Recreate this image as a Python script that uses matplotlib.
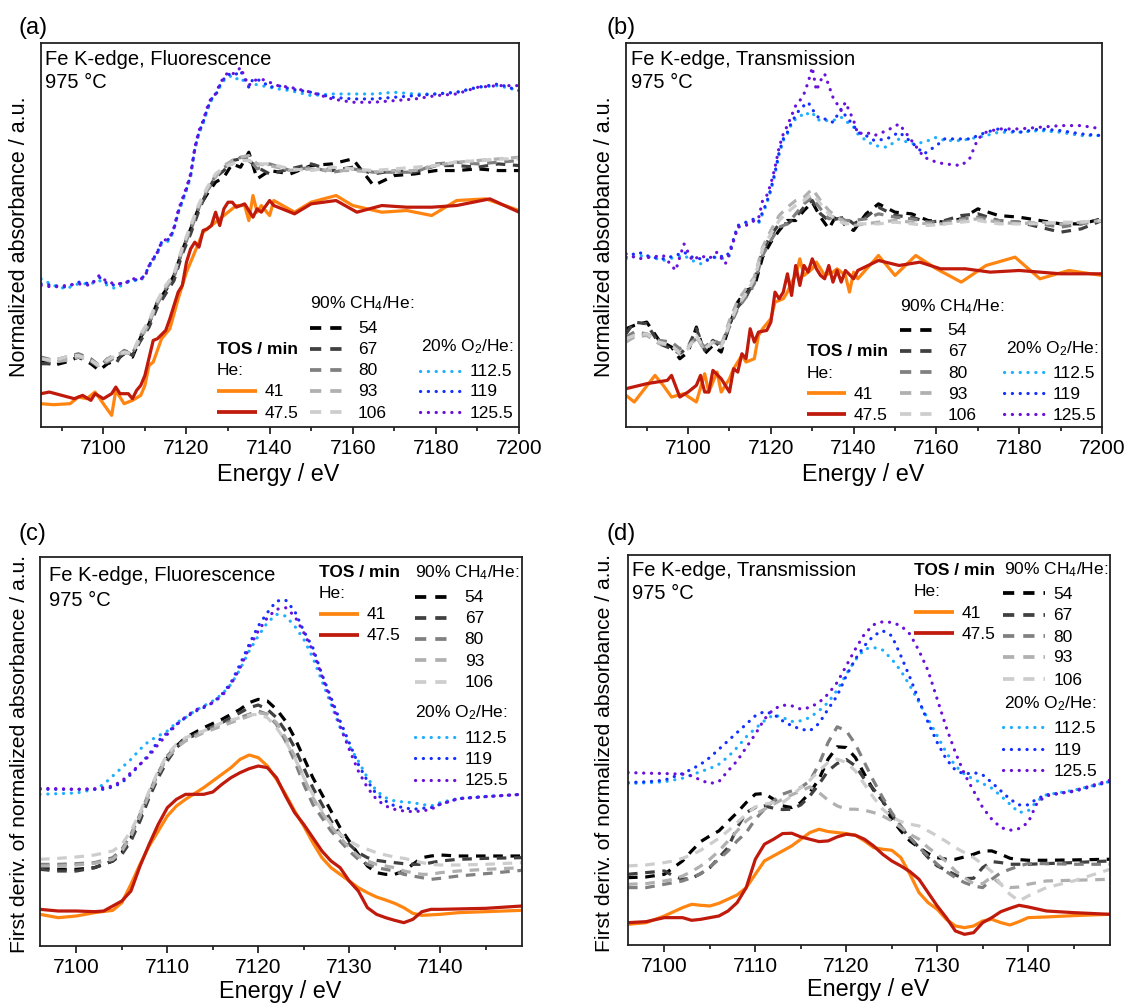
import matplotlib
matplotlib.use('Agg')
import matplotlib.pyplot as plt
from matplotlib.ticker import MultipleLocator

plt.rcParams['font.family'] = ['Liberation Sans', 'DejaVu Sans']
plt.rcParams['mathtext.fontset'] = 'custom'
plt.rcParams['mathtext.rm'] = 'Liberation Sans'
plt.rcParams['mathtext.it'] = 'Liberation Sans:italic'
plt.rcParams['mathtext.bf'] = 'Liberation Sans:bold'

# ---------------- labels ----------------
HE_LABELS = ['41', '47.5']
CH4_LABELS = ['54', '67', '80', '93', '106']
O2_LABELS = ['112.5', '119', '125.5']
HE_COLORS = ['#FF8510', '#BF1A0C']
CH4_COLORS = ['#000000', '#404040', '#808080', '#B0B0B0', '#CDCDCD']
O2_COLORS = ['#1EB0FF', '#1430FF', '#6A10D8']

# ---------------- panel (a): XANES, fluorescence ----------------
E_a_41 = [7085, 7088, 7092, 7094, 7096, 7098, 7100, 7102, 7103, 7105, 7107, 7109, 7110, 7111, 7112, 7114, 7116, 7118, 7120, 7122,
          7124, 7126, 7128, 7130, 7132, 7134, 7135, 7136, 7137, 7138, 7140, 7141, 7146, 7150, 7156, 7160, 7167, 7173, 7179, 7185, 7192, 7200]
Y_a_41 = [7.0, 6.7, 7.0, 9.0, 8.5, 10.5, 7.0, 3.5, 11.0, 7.0, 8.0, 9.5, 12.5, 18.5, 19.5, 26.5, 29.5, 38.5, 46.5, 52.5,
          58.5, 60.5, 62.5, 64.5, 66.5, 66.5, 62.0, 69.5, 64.5, 66.5, 63.5, 68.0, 64.5, 67.5, 69.5, 66.5, 64.5, 65.0, 63.5, 68.0, 68.5, 65.0]
E_a_47 = [7085, 7087, 7090, 7093, 7095, 7097, 7098, 7100, 7102, 7103, 7104, 7106, 7107, 7108, 7109, 7110, 7112, 7113, 7115, 7116,
          7118, 7119, 7120, 7121, 7122, 7123, 7124, 7125, 7126, 7127, 7128, 7129, 7130, 7131, 7132, 7134, 7136, 7137, 7138, 7140,
          7141, 7146, 7150, 7156, 7161, 7167, 7173, 7179, 7185, 7193, 7200]
Y_a_47 = [10.0, 10.5, 9.5, 8.5, 9.5, 8.0, 10.0, 8.5, 10.0, 12.0, 10.0, 10.0, 8.5, 11.0, 12.5, 15.5, 26.0, 26.5, 29.0, 32.5,
          40.5, 42.5, 49.5, 53.5, 55.5, 54.0, 59.0, 59.5, 60.5, 64.5, 60.5, 65.5, 67.5, 67.5, 66.0, 67.0, 63.0, 65.5, 64.5, 68.0,
          66.5, 64.0, 67.0, 68.0, 64.5, 66.5, 66.0, 66.0, 66.5, 68.5, 64.5]
E_a_gray = [7085, 7088, 7091, 7094, 7097, 7099, 7101, 7103, 7105, 7107, 7109, 7111, 7113, 7115, 7117, 7119, 7121, 7123, 7125, 7127,
            7129, 7131, 7133, 7135, 7137, 7140, 7145, 7150, 7155, 7160, 7165, 7170, 7175, 7180, 7185, 7190, 7195, 7200]
Y_a_54 = [20.0, 18.5, 19.5, 21.0, 19.0, 17.0, 19.0, 20.0, 22.0, 21.0, 27.0, 31.0, 37.5, 41.0, 45.5, 53.0, 59.5, 66.0, 70.0, 73.5,
          75.0, 79.0, 78.0, 82.5, 74.5, 77.0, 76.0, 78.5, 79.0, 80.5, 72.5, 75.5, 76.0, 77.0, 77.0, 77.5, 77.0, 77.0]
Y_a_67 = [19.0, 19.0, 20.5, 21.5, 19.5, 18.0, 20.5, 19.0, 23.0, 21.5, 26.0, 30.0, 36.0, 40.0, 44.0, 52.0, 58.0, 65.0, 71.0, 75.0,
          77.0, 80.0, 80.5, 80.0, 78.0, 76.0, 77.5, 79.0, 77.0, 78.0, 76.0, 77.0, 76.5, 78.5, 78.5, 78.0, 79.0, 78.5]
Y_a_80 = [21.0, 20.0, 21.0, 22.0, 20.5, 18.5, 19.5, 21.0, 23.0, 22.0, 27.5, 31.5, 37.0, 41.5, 45.0, 53.0, 59.0, 66.0, 71.0, 75.5,
          78.0, 79.0, 81.0, 80.5, 77.5, 79.0, 77.0, 78.0, 76.5, 77.5, 76.5, 76.5, 76.5, 79.0, 79.5, 79.0, 79.5, 80.0]
Y_a_93 = [20.5, 19.5, 20.0, 21.0, 20.0, 18.0, 20.5, 22.0, 22.0, 22.5, 26.5, 31.0, 37.5, 42.0, 46.0, 53.5, 60.0, 66.5, 71.5, 75.0,
          78.5, 80.0, 81.0, 81.5, 79.0, 78.5, 77.0, 77.5, 77.0, 77.0, 76.5, 77.0, 77.0, 78.5, 79.5, 80.0, 80.5, 81.0]
Y_a_106 = [20.5, 20.0, 21.0, 21.5, 20.0, 18.5, 20.0, 21.5, 22.5, 22.0, 28.0, 32.0, 38.0, 42.5, 46.0, 54.0, 60.5, 67.0, 72.0, 76.0,
           78.0, 79.0, 80.0, 80.0, 79.0, 79.0, 77.5, 77.0, 78.0, 77.5, 77.0, 77.5, 78.0, 78.5, 79.5, 80.0, 80.5, 80.5]
E_a_ox = [7085, 7088, 7091, 7094, 7097, 7099, 7101, 7103, 7105, 7107, 7109, 7110, 7111, 7113, 7114, 7116, 7117, 7118, 7120, 7121,
          7122, 7123, 7124, 7125, 7126, 7127, 7128, 7129, 7130, 7131, 7132, 7133, 7134, 7135, 7136, 7138, 7140, 7142, 7145, 7150,
          7155, 7160, 7165, 7170, 7175, 7180, 7185, 7190, 7195, 7200]
Y_a_112 = [44.5, 42.5, 41.5, 43.0, 43.0, 44.0, 42.5, 41.5, 43.0, 44.0, 44.0, 45.5, 48.0, 52.0, 55.0, 56.0, 59.5, 64.0, 71.0, 75.0,
           83.0, 88.0, 91.0, 95.0, 98.0, 100.0, 102.0, 104.0, 105.0, 105.5, 104.5, 105.0, 103.5, 102.5, 103.0, 102.5, 102.0, 101.5, 101.0, 99.5,
           100.0, 100.0, 100.0, 100.5, 100.0, 100.0, 100.5, 102.0, 102.5, 101.0]
Y_a_119 = [43.0, 42.5, 42.0, 43.5, 43.0, 45.0, 43.0, 42.5, 43.5, 44.0, 44.5, 45.5, 48.5, 52.5, 55.5, 56.5, 59.5, 64.5, 71.5, 75.5,
           83.5, 88.5, 91.5, 95.5, 98.5, 99.5, 102.5, 104.5, 106.0, 105.5, 106.0, 107.0, 104.5, 102.0, 104.5, 104.0, 102.0, 102.5, 101.5, 100.5,
           99.0, 98.5, 98.5, 99.0, 99.5, 100.0, 100.5, 102.0, 103.0, 101.0]
Y_a_125 = [42.5, 42.0, 42.5, 43.0, 42.5, 45.5, 43.5, 43.0, 43.0, 44.5, 44.5, 45.0, 48.5, 52.5, 55.5, 57.0, 60.0, 65.0, 72.0, 76.0,
           84.0, 89.0, 92.0, 96.0, 99.0, 100.0, 103.0, 105.0, 106.5, 106.0, 106.5, 108.0, 105.0, 102.5, 104.0, 104.5, 103.5, 102.5, 102.0, 100.5,
           98.5, 97.5, 97.5, 98.0, 98.5, 99.5, 100.0, 102.0, 102.5, 102.5]

# ---------------- panel (b): XANES, transmission ----------------
E_b_41 = [7085, 7087, 7092, 7094, 7096, 7099, 7102, 7104, 7105, 7107, 7108, 7110, 7111, 7113, 7114, 7116, 7117, 7118, 7120, 7121,
          7123, 7124, 7125, 7126, 7127, 7128, 7130, 7131, 7133, 7135, 7136, 7138, 7139, 7140, 7141, 7146, 7150, 7155, 7160, 7166,
          7172, 7179, 7185, 7192, 7200]
Y_b_41 = [9.5, 7.5, 15.5, 12.5, 9.0, 10.0, 7.5, 16.0, 10.5, 16.5, 10.5, 14.5, 17.5, 21.5, 19.5, 20.5, 27.5, 29.5, 32.5, 37.5,
          38.5, 40.5, 43.5, 45.5, 50.5, 45.5, 47.5, 49.5, 45.5, 46.5, 47.5, 45.5, 40.5, 46.5, 44.5, 51.5, 45.5, 51.5, 47.5, 43.5,
          48.5, 51.0, 44.5, 47.0, 45.5]
E_b_47 = [7085, 7090, 7095, 7096, 7098, 7100, 7102, 7103, 7104, 7105, 7106, 7108, 7110, 7111, 7112, 7113, 7114, 7115, 7116, 7117,
          7119, 7120, 7121, 7122, 7123, 7124, 7125, 7126, 7127, 7128, 7129, 7130, 7131, 7132, 7133, 7134, 7135, 7136, 7137, 7138,
          7140, 7141, 7146, 7151, 7156, 7161, 7167, 7173, 7180, 7190, 7200]
Y_b_47 = [11.5, 13.0, 14.0, 15.5, 9.0, 10.5, 12.5, 15.5, 10.5, 10.5, 17.0, 14.5, 10.5, 17.5, 16.5, 22.0, 20.5, 29.5, 25.5, 28.5,
          29.0, 31.5, 40.5, 38.5, 40.5, 46.0, 39.5, 48.5, 42.5, 48.5, 46.5, 50.5, 47.5, 45.5, 44.5, 48.5, 43.5, 47.0, 43.5, 47.0,
          44.5, 47.0, 50.0, 48.5, 49.5, 47.5, 47.5, 46.5, 47.0, 46.0, 46.0]
E_b_gray = [7085, 7087, 7090, 7093, 7096, 7098, 7100, 7102, 7104, 7106, 7108, 7110, 7112, 7114, 7116, 7118, 7120, 7122, 7124, 7126,
            7128, 7130, 7132, 7134, 7136, 7138, 7140, 7143, 7146, 7150, 7154, 7158, 7162, 7166, 7170, 7175, 7180, 7185, 7190, 7195, 7200]
Y_b_54 = [29.5, 30.5, 31.5, 26.0, 24.0, 20.5, 22.5, 30.0, 22.0, 24.5, 22.5, 30.5, 37.5, 41.0, 42.0, 51.0, 55.5, 59.0, 62.0, 62.0,
          65.0, 67.5, 63.0, 59.5, 64.0, 60.5, 59.0, 64.0, 67.0, 64.5, 64.0, 62.0, 61.5, 62.5, 65.5, 63.5, 63.0, 62.0, 61.0, 61.0, 62.5]
Y_b_67 = [28.0, 31.5, 31.0, 25.0, 23.5, 22.0, 24.0, 29.5, 23.0, 26.0, 24.0, 31.0, 36.0, 39.0, 44.0, 53.0, 57.5, 61.0, 61.0, 63.0,
          66.0, 68.0, 64.0, 62.0, 62.5, 63.0, 61.0, 63.0, 66.0, 63.5, 63.0, 61.5, 62.0, 63.5, 64.0, 62.0, 61.5, 60.0, 58.5, 59.5, 62.0]
Y_b_80 = [27.0, 28.5, 28.0, 26.0, 25.5, 23.5, 24.5, 26.5, 24.0, 26.0, 25.0, 30.0, 35.5, 39.0, 43.0, 51.5, 56.0, 60.0, 61.0, 64.0,
          67.0, 69.0, 65.5, 62.5, 63.5, 62.0, 62.0, 62.5, 64.0, 63.0, 62.5, 61.5, 61.5, 62.5, 63.0, 62.0, 61.5, 61.0, 60.0, 61.0, 62.0]
Y_b_93 = [25.5, 27.0, 27.5, 25.0, 24.5, 22.5, 24.0, 27.0, 23.0, 25.5, 24.5, 32.0, 38.0, 41.5, 45.0, 54.0, 59.0, 63.5, 66.0, 68.0,
          69.0, 71.5, 68.0, 65.0, 63.0, 61.5, 60.5, 61.0, 61.5, 62.0, 61.5, 61.0, 61.0, 62.0, 62.5, 61.5, 61.0, 61.5, 61.0, 61.5, 62.0]
Y_b_106 = [26.5, 27.5, 28.0, 25.5, 24.5, 22.0, 23.5, 27.5, 23.5, 25.5, 24.0, 31.0, 36.5, 40.0, 44.5, 53.5, 58.0, 62.0, 64.5, 66.5,
           68.0, 70.0, 67.0, 64.0, 62.0, 61.0, 61.0, 61.0, 61.0, 61.5, 61.0, 60.5, 61.0, 61.5, 62.0, 61.0, 61.0, 61.0, 61.5, 61.5, 62.0]
E_b_ox = [7085, 7088, 7091, 7094, 7097, 7099, 7101, 7103, 7105, 7107, 7109, 7110, 7112, 7114, 7116, 7117, 7118, 7119, 7120, 7121,
          7122, 7123, 7124, 7125, 7126, 7127, 7128, 7129, 7130, 7131, 7132, 7133, 7135, 7137, 7138, 7140, 7141, 7143, 7145, 7148,
          7151, 7154, 7157, 7160, 7162, 7166, 7168, 7170, 7172, 7175, 7180, 7185, 7190, 7195, 7200]
Y_b_112 = [50.5, 51.5, 51.0, 50.0, 51.0, 51.5, 50.0, 49.0, 50.5, 51.0, 50.5, 51.5, 60.0, 61.0, 62.0, 61.0, 64.0, 67.0, 71.0, 76.0,
           82.0, 86.0, 88.0, 91.0, 92.5, 93.0, 94.5, 94.0, 94.5, 92.5, 92.0, 92.0, 92.0, 93.0, 92.0, 90.0, 88.0, 86.0, 84.5, 84.0,
           86.5, 85.0, 85.5, 87.0, 86.0, 86.0, 86.5, 87.0, 87.5, 88.5, 88.5, 89.0, 88.5, 87.5, 87.5]
Y_b_119 = [51.0, 52.5, 51.0, 50.5, 51.5, 52.5, 51.0, 50.5, 50.0, 51.5, 51.0, 52.5, 60.5, 61.5, 62.5, 61.5, 64.5, 67.5, 71.5, 76.5,
           82.5, 86.5, 88.5, 91.5, 93.5, 95.5, 96.5, 97.5, 95.5, 93.5, 92.5, 92.5, 91.5, 95.5, 93.5, 90.5, 88.5, 87.5, 86.0, 86.5,
           88.5, 85.5, 82.0, 84.5, 86.5, 86.5, 86.5, 87.5, 88.5, 89.5, 88.5, 89.5, 89.0, 88.0, 87.5]
Y_b_125 = [52.0, 50.5, 51.0, 51.5, 47.0, 55.0, 50.0, 51.5, 50.5, 52.5, 49.0, 52.0, 60.0, 60.5, 62.0, 62.5, 68.0, 69.5, 73.0, 78.0,
           84.0, 88.0, 90.5, 93.5, 96.5, 98.0, 100.0, 103.5, 108.0, 101.0, 104.0, 106.0, 99.0, 95.0, 97.5, 92.0, 88.0, 88.5, 87.5, 89.0,
           91.0, 86.0, 81.0, 79.5, 79.0, 78.5, 80.5, 86.5, 88.5, 89.5, 89.5, 90.0, 90.5, 90.5, 89.5]

# ---------------- panel (c): first derivative, fluorescence ----------------
E_c_41 = [7096, 7098, 7100, 7102, 7104, 7105, 7106, 7107, 7108, 7109, 7110, 7111, 7112, 7114, 7116, 7117, 7118, 7119, 7120, 7121,
          7122, 7123, 7124, 7125, 7126, 7127, 7128, 7129, 7130, 7131, 7132, 7133, 7134, 7135, 7136, 7137, 7138, 7140, 7142, 7145, 7149]
Y_c_41 = [9.5, 8.5, 9.0, 10.0, 10.7, 13.0, 18.5, 24.5, 30.0, 34.5, 39.0, 42.0, 44.0, 47.5, 51.5, 53.5, 56.0, 57.3, 56.5, 54.0,
          50.0, 45.5, 40.5, 36.0, 31.0, 26.5, 23.5, 21.5, 19.5, 17.5, 16.0, 14.7, 13.8, 12.8, 11.5, 9.8, 9.2, 9.5, 10.0, 10.3, 10.7]
E_c_47 = [7096, 7098, 7100, 7102, 7103, 7104, 7105, 7106, 7107, 7108, 7109, 7110, 7111, 7112, 7113, 7114, 7115, 7116, 7117, 7118,
          7119, 7120, 7121, 7122, 7123, 7124, 7125, 7126, 7127, 7128, 7129, 7130, 7131, 7132, 7133, 7134, 7135, 7136, 7137, 7138,
          7139, 7140, 7145, 7149]
Y_c_47 = [11.0, 10.5, 10.5, 10.3, 10.5, 12.0, 13.5, 16.5, 24.0, 30.5, 36.5, 41.5, 44.0, 45.5, 45.5, 45.5, 46.2, 48.5, 50.5, 52.0,
          53.2, 54.0, 53.5, 50.5, 45.0, 40.0, 36.5, 32.5, 28.5, 25.5, 23.5, 19.5, 16.5, 11.5, 9.5, 8.5, 7.7, 7.0, 8.0, 10.3,
          11.0, 11.0, 11.3, 12.0]
E_c_gray = [7096, 7098, 7100, 7102, 7104, 7105, 7106, 7107, 7108, 7109, 7110, 7111, 7112, 7114, 7116, 7118, 7119, 7120, 7121, 7122,
            7123, 7124, 7125, 7126, 7127, 7128, 7129, 7130, 7131, 7132, 7133, 7134, 7135, 7136, 7137, 7138, 7139, 7140, 7142, 7145, 7149]
Y_c_54 = [23.5, 23.0, 23.0, 23.5, 25.5, 28.0, 32.5, 38.5, 45.5, 51.5, 56.5, 60.0, 62.5, 65.5, 68.0, 71.0, 73.0, 74.0, 73.5, 71.0,
          67.5, 62.5, 56.5, 50.5, 45.5, 40.5, 35.5, 31.5, 27.5, 24.0, 22.0, 21.5, 21.5, 22.5, 24.5, 26.5, 27.0, 27.3, 27.0, 27.0, 27.0]
Y_c_67 = [23.0, 22.5, 22.5, 23.5, 25.5, 27.5, 31.5, 37.5, 44.5, 50.5, 55.5, 59.5, 62.0, 64.5, 67.0, 70.0, 71.5, 72.3, 71.0, 68.5,
          64.5, 59.5, 53.5, 47.5, 42.5, 37.5, 33.5, 30.5, 28.0, 26.5, 25.7, 25.3, 25.0, 24.7, 24.5, 24.5, 25.0, 25.5, 26.0, 26.3, 26.5]
Y_c_80 = [24.5, 24.5, 24.7, 25.0, 26.5, 29.0, 33.5, 39.5, 46.0, 52.0, 57.0, 60.0, 62.0, 64.5, 66.5, 68.5, 69.5, 70.5, 69.5, 66.5,
          61.5, 55.5, 48.5, 42.5, 38.5, 34.5, 31.5, 28.5, 26.0, 24.5, 23.5, 23.0, 22.5, 21.5, 21.0, 20.5, 20.0, 20.3, 21.0, 21.7, 22.7]
Y_c_93 = [24.0, 24.0, 24.3, 24.8, 26.0, 28.5, 33.0, 39.0, 45.5, 51.5, 56.5, 59.5, 61.5, 64.0, 66.0, 68.0, 69.0, 70.0, 69.5, 67.0,
          62.5, 57.0, 50.5, 44.5, 40.0, 36.0, 32.5, 29.5, 27.0, 25.5, 24.5, 24.0, 23.5, 22.5, 22.0, 21.5, 21.5, 22.0, 22.5, 23.0, 23.5]
Y_c_106 = [26.0, 26.3, 26.7, 27.3, 28.5, 30.5, 34.5, 40.0, 46.5, 52.5, 57.5, 60.5, 62.5, 64.5, 67.0, 68.5, 69.3, 69.5, 68.5, 65.5,
           61.5, 56.5, 50.5, 45.5, 40.5, 36.5, 33.5, 31.5, 30.0, 29.0, 28.0, 27.3, 26.7, 26.3, 25.7, 25.0, 24.5, 24.3, 24.3, 24.5, 25.0]
E_c_ox = [7096, 7098, 7100, 7102, 7103, 7104, 7105, 7106, 7107, 7108, 7109, 7110, 7111, 7112, 7113, 7114, 7115, 7116, 7117, 7118,
          7119, 7120, 7121, 7122, 7123, 7124, 7125, 7126, 7127, 7128, 7129, 7130, 7131, 7132, 7133, 7134, 7135, 7136, 7137, 7138,
          7139, 7140, 7142, 7145, 7149]
Y_c_112 = [45.5, 45.7, 45.9, 47.0, 48.5, 51.0, 53.5, 56.0, 59.0, 61.5, 63.0, 64.5, 67.0, 68.5, 70.5, 72.0, 73.5, 75.5, 78.5, 83.0,
           88.5, 93.0, 97.0, 99.5, 99.0, 96.0, 92.0, 86.5, 79.5, 72.5, 65.5, 60.0, 55.5, 50.5, 46.5, 44.5, 43.5, 43.2, 43.0, 42.5,
           42.0, 43.0, 44.3, 44.9, 45.5]
Y_c_119 = [47.0, 47.0, 47.0, 47.0, 47.0, 47.7, 49.0, 51.5, 54.5, 57.5, 61.5, 64.0, 66.5, 68.5, 70.3, 71.5, 73.0, 75.5, 79.0, 84.5,
           90.5, 96.0, 100.0, 103.5, 103.8, 100.5, 94.5, 89.5, 81.5, 74.5, 67.5, 61.0, 54.5, 49.5, 45.5, 43.5, 42.0, 41.5, 41.0, 41.3,
           41.5, 42.5, 44.2, 44.8, 45.5]
Y_c_125 = [47.3, 47.2, 47.0, 47.2, 47.5, 48.0, 49.5, 52.0, 54.5, 57.0, 60.5, 63.5, 66.3, 68.7, 70.7, 71.8, 73.0, 75.0, 78.5, 83.5,
           89.5, 94.5, 98.5, 101.0, 101.5, 99.0, 94.0, 88.5, 81.0, 73.5, 66.0, 59.0, 52.5, 47.5, 44.0, 42.0, 41.0, 40.5, 40.3, 40.5,
           41.0, 42.5, 44.2, 44.8, 45.5]

# ---------------- panel (d): first derivative, transmission ----------------
E_d_41 = [7096, 7098, 7100, 7102, 7103, 7104, 7105, 7106, 7108, 7109, 7110, 7111, 7112, 7113, 7114, 7115, 7116, 7117, 7118, 7119,
          7120, 7121, 7122, 7123, 7124, 7125, 7126, 7127, 7128, 7129, 7130, 7131, 7132, 7133, 7134, 7135, 7136, 7137, 7138, 7139,
          7140, 7142, 7145, 7149]
Y_d_41 = [6.2, 6.7, 8.7, 11.2, 12.2, 11.9, 11.7, 12.5, 15.0, 17.2, 21.2, 25.2, 26.7, 28.2, 29.7, 31.7, 33.7, 34.7, 34.0, 33.7,
          33.4, 32.9, 31.2, 29.2, 28.7, 28.4, 26.2, 21.2, 15.7, 12.7, 10.7, 7.7, 5.7, 5.2, 5.7, 7.2, 7.7, 6.7, 6.0, 7.0,
          8.2, 8.4, 8.8, 9.2]
E_d_47 = [7096, 7098, 7100, 7102, 7103, 7104, 7106, 7107, 7108, 7109, 7110, 7111, 7112, 7113, 7114, 7115, 7116, 7117, 7118, 7119,
          7120, 7121, 7122, 7123, 7124, 7125, 7126, 7127, 7128, 7129, 7130, 7131, 7132, 7133, 7134, 7135, 7136, 7137, 7138, 7139,
          7140, 7142, 7145, 7149]
Y_d_47 = [6.7, 7.0, 8.2, 8.2, 7.4, 7.7, 8.7, 10.2, 12.7, 17.2, 25.7, 30.2, 31.7, 33.4, 33.5, 32.4, 31.7, 31.0, 31.2, 32.4,
          33.2, 32.9, 31.7, 29.7, 27.2, 25.2, 23.7, 22.0, 19.7, 15.7, 11.7, 8.2, 4.2, 3.2, 3.7, 6.7, 8.2, 10.0, 11.0, 11.9,
          11.4, 10.2, 9.7, 9.2]
E_d_gray = [7096, 7098, 7100, 7101, 7102, 7103, 7104, 7105, 7106, 7107, 7108, 7109, 7110, 7111, 7112, 7113, 7114, 7115, 7116, 7117,
            7118, 7119, 7120, 7121, 7122, 7123, 7124, 7125, 7126, 7127, 7128, 7129, 7130, 7131, 7132, 7133, 7134, 7135, 7136, 7137,
            7138, 7139, 7140, 7142, 7145, 7149]
Y_d_54 = [20.2, 20.4, 21.2, 23.2, 25.2, 28.2, 31.0, 32.7, 34.2, 37.0, 39.7, 42.7, 45.2, 45.4, 43.7, 41.7, 41.2, 42.7, 45.7, 49.7,
          55.7, 59.4, 59.2, 56.2, 51.2, 46.4, 43.2, 37.7, 34.2, 31.2, 29.2, 27.4, 26.2, 25.7, 25.7, 26.4, 27.2, 28.2, 28.2, 27.2,
          26.0, 25.6, 25.4, 25.4, 25.5, 25.7]
Y_d_67 = [21.2, 21.7, 22.2, 20.7, 19.7, 20.0, 21.4, 23.2, 26.2, 29.2, 35.2, 39.7, 41.2, 41.7, 41.0, 40.6, 40.7, 42.0, 44.7, 48.2,
          52.2, 54.4, 55.6, 53.7, 49.7, 46.7, 43.2, 39.2, 35.2, 32.2, 29.2, 26.2, 23.7, 22.4, 21.0, 19.9, 20.0, 23.2, 25.0, 24.7,
          24.2, 24.2, 24.2, 24.4, 24.7, 25.2]
Y_d_80 = [17.2, 17.2, 18.2, 18.7, 19.2, 20.2, 21.4, 23.4, 25.7, 28.2, 31.2, 33.7, 37.7, 40.7, 43.2, 45.2, 46.2, 47.2, 49.2, 54.2,
          60.7, 65.4, 64.2, 60.2, 54.7, 49.2, 44.2, 39.7, 35.7, 32.2, 29.2, 26.7, 24.2, 22.0, 20.2, 18.7, 17.7, 17.2, 19.7, 21.7,
          22.7, 23.7, 24.4, 24.4, 24.2, 24.2]
Y_d_93 = [18.2, 18.4, 19.2, 19.7, 20.7, 22.0, 23.7, 25.7, 28.2, 31.2, 34.2, 37.2, 39.2, 40.7, 42.2, 43.7, 45.0, 46.2, 47.4, 45.7,
          43.4, 41.7, 40.7, 40.7, 40.4, 39.7, 38.7, 37.2, 35.2, 33.2, 31.7, 29.2, 27.2, 25.0, 22.2, 20.2, 18.4, 18.4, 20.4, 18.2,
          17.2, 17.4, 18.2, 19.2, 19.4, 19.7]
Y_d_106 = [23.7, 24.0, 24.7, 25.2, 26.0, 27.0, 28.4, 30.2, 32.0, 34.2, 36.7, 39.2, 41.4, 42.2, 42.7, 42.7, 44.7, 47.2, 49.4, 52.2,
           54.7, 55.7, 54.7, 52.2, 48.2, 44.2, 40.7, 38.4, 37.0, 36.2, 35.7, 34.2, 32.7, 31.0, 29.2, 27.7, 26.2, 24.2, 22.0, 18.2,
           15.2, 13.2, 14.7, 17.2, 19.2, 22.7]
E_d_ox = [7096, 7098, 7100, 7102, 7103, 7104, 7105, 7106, 7107, 7108, 7109, 7110, 7111, 7112, 7113, 7114, 7115, 7116, 7117, 7118,
          7119, 7120, 7121, 7122, 7123, 7124, 7125, 7126, 7127, 7128, 7129, 7130, 7131, 7132, 7133, 7134, 7135, 7136, 7137, 7138,
          7139, 7140, 7141, 7142, 7145, 7149]
Y_d_112 = [48.4, 48.6, 48.9, 50.0, 51.0, 52.0, 52.9, 54.2, 56.4, 59.2, 62.4, 64.9, 67.2, 69.0, 68.2, 67.0, 67.2, 68.2, 70.2, 72.7,
           76.4, 81.2, 85.4, 88.7, 89.2, 88.4, 85.7, 82.2, 77.7, 72.7, 67.7, 62.7, 57.7, 53.7, 51.2, 49.7, 48.4, 47.0, 44.7, 42.2,
           39.7, 40.2, 43.2, 45.0, 46.4, 49.0]
Y_d_119 = [48.7, 48.9, 49.4, 51.4, 52.7, 54.2, 56.2, 58.7, 61.2, 63.7, 66.2, 68.7, 70.0, 69.2, 67.2, 65.7, 64.7, 64.2, 66.4, 70.7,
           74.7, 80.7, 85.7, 89.7, 92.7, 94.2, 92.7, 86.7, 80.2, 73.2, 66.7, 60.7, 55.7, 52.4, 51.2, 51.7, 51.0, 48.7, 46.2, 43.7,
           42.0, 42.0, 43.9, 45.0, 46.0, 49.0]
Y_d_125 = [51.7, 51.5, 51.4, 51.2, 50.7, 49.4, 48.4, 49.0, 52.2, 55.2, 59.2, 63.2, 67.7, 70.7, 71.9, 71.7, 70.7, 71.2, 72.7, 75.2,
           78.7, 83.7, 88.7, 93.2, 96.0, 96.9, 96.7, 95.7, 93.2, 88.2, 82.2, 73.7, 65.2, 57.7, 51.2, 46.2, 41.2, 37.7, 35.2, 34.4,
           34.9, 36.7, 42.7, 44.7, 46.2, 49.4]

# ---------------- style ----------------
LW = 2.3
DASH = (3.0, 2.4)
DOT = (0.05, 2.4)
FS_TXT = 12.5

W, H = 1126, 1004
fig = plt.figure(figsize=(W / 100, H / 100), dpi=100)


def add_axes(l, r, t, b):
    return fig.add_axes([l / W, 1 - b / H, (r - l) / W, (b - t) / H])


def draw(ax, he, ch4, ox):
    for (E, Y), c in zip(he, HE_COLORS):
        ax.plot(E, Y, color=c, lw=LW, solid_joinstyle='round')
    for (E, Y), c in zip(ch4, CH4_COLORS):
        ax.plot(E, Y, color=c, lw=LW, linestyle=(0, DASH), dash_capstyle='butt')
    for (E, Y), c in zip(ox, O2_COLORS):
        ax.plot(E, Y, color=c, lw=LW, linestyle=(0, DOT), dash_capstyle='round')


def style(ax, xlim, ylim, major, minor):
    ax.set_xlim(*xlim)
    ax.set_ylim(*ylim)
    ax.xaxis.set_major_locator(MultipleLocator(major))
    ax.xaxis.set_minor_locator(MultipleLocator(minor))
    ax.set_yticks([])
    ax.tick_params(axis='x', which='major', direction='out', length=5, width=1.1, labelsize=15, pad=3)
    ax.tick_params(axis='x', which='minor', direction='out', length=3, width=1.1)
    for s in ax.spines.values():
        s.set_linewidth(1.3)
        s.set_color('#222222')


def legend(ax, tos, he_rows, he_x, ch4_head, ch4_rows, ch4_x, ox_head, ox_rows, ox_x):
    tr = ax.transAxes
    ax.text(tos[0], tos[1], 'TOS / min', transform=tr, fontsize=FS_TXT, fontweight='bold', va='center', ha='left')
    ax.text(tos[0], tos[2], 'He:', transform=tr, fontsize=FS_TXT, va='center', ha='left')
    for y, c, lab in zip(he_rows, HE_COLORS, HE_LABELS):
        ax.plot([he_x[0], he_x[1]], [y, y], transform=tr, color=c, lw=LW + 0.4, solid_capstyle='butt', clip_on=False)
        ax.text(he_x[2], y, lab, transform=tr, fontsize=FS_TXT, va='center', ha='left')
    ax.text(ch4_head[0], ch4_head[1], '90% CH$_4$/He:', transform=tr, fontsize=FS_TXT, va='center', ha='left')
    for y, c, lab in zip(ch4_rows, CH4_COLORS, CH4_LABELS):
        ax.plot([ch4_x[0], ch4_x[1]], [y, y], transform=tr, color=c, lw=LW + 0.4, linestyle=(0, DASH),
                dash_capstyle='butt', clip_on=False)
        ax.text(ch4_x[2], y, lab, transform=tr, fontsize=FS_TXT, va='center', ha='left')
    ax.text(ox_head[0], ox_head[1], '20% O$_2$/He:', transform=tr, fontsize=FS_TXT, va='center', ha='left')
    for y, c, lab in zip(ox_rows, O2_COLORS, O2_LABELS):
        ax.plot([ox_x[0], ox_x[1]], [y, y], transform=tr, color=c, lw=LW, linestyle=(0, DOT),
                dash_capstyle='round', clip_on=False)
        ax.text(ox_x[2], y, lab, transform=tr, fontsize=FS_TXT, va='center', ha='left')


def header(ax, x, y1, y2, title):
    ax.text(x, y1, title, transform=ax.transAxes, fontsize=14.5, va='center', ha='left')
    ax.text(x, y2, '975 °C', transform=ax.transAxes, fontsize=14.5, va='center', ha='left')


# ---- (a)
axA = add_axes(41, 519, 44, 428)
draw(axA, [(E_a_41, Y_a_41), (E_a_47, Y_a_47)],
     [(E_a_gray, Y_a_54), (E_a_gray, Y_a_67), (E_a_gray, Y_a_80), (E_a_gray, Y_a_93), (E_a_gray, Y_a_106)],
     [(E_a_ox, Y_a_112), (E_a_ox, Y_a_119), (E_a_ox, Y_a_125)])
style(axA, (7085, 7200), (0, 115.3), 20, 10)
header(axA, 0.0075, 0.960, 0.899, 'Fe K-edge, Fluorescence')
legend(axA, (0.368, 0.204, 0.149), [0.094, 0.039], (0.368, 0.451, 0.468),
       (0.562, 0.3235), [0.258, 0.204, 0.149, 0.094, 0.039], (0.562, 0.646, 0.663),
       (0.795, 0.211), [0.147, 0.094, 0.039], (0.793, 0.876, 0.897))

# ---- (b)
axB = add_axes(626, 1102, 44, 428)
draw(axB, [(E_b_41, Y_b_41), (E_b_47, Y_b_47)],
     [(E_b_gray, Y_b_54), (E_b_gray, Y_b_67), (E_b_gray, Y_b_80), (E_b_gray, Y_b_93), (E_b_gray, Y_b_106)],
     [(E_b_ox, Y_b_112), (E_b_ox, Y_b_119), (E_b_ox, Y_b_125)])
style(axB, (7085, 7200), (0, 115.3), 20, 10)
header(axB, 0.0098, 0.960, 0.899, 'Fe K-edge, Transmission')
legend(axB, (0.380, 0.199, 0.143), [0.088, 0.033], (0.380, 0.463, 0.479),
       (0.576, 0.317), [0.253, 0.198, 0.143, 0.088, 0.033], (0.576, 0.659, 0.676),
       (0.799, 0.206), [0.143, 0.088, 0.033], (0.795, 0.878, 0.897))

# ---- (c)
axC = add_axes(40, 522, 558, 947)
draw(axC, [(E_c_41, Y_c_41), (E_c_47, Y_c_47)],
     [(E_c_gray, Y_c_54), (E_c_gray, Y_c_67), (E_c_gray, Y_c_80), (E_c_gray, Y_c_93), (E_c_gray, Y_c_106)],
     [(E_c_ox, Y_c_112), (E_c_ox, Y_c_119), (E_c_ox, Y_c_125)])
style(axC, (7096, 7149), (0, 116.7), 10, 5)
header(axC, 0.0186, 0.955, 0.891, 'Fe K-edge, Fluorescence')
legend(axC, (0.578, 0.962, 0.910), [0.854, 0.800], (0.578, 0.661, 0.678),
       (0.777, 0.962), [0.898, 0.844, 0.790, 0.734, 0.679], (0.777, 0.862, 0.881),
       (0.777, 0.602), [0.537, 0.483, 0.428], (0.777, 0.862, 0.881))

# ---- (d)
axD = add_axes(628, 1110, 556, 946)
draw(axD, [(E_d_41, Y_d_41), (E_d_47, Y_d_47)],
     [(E_d_gray, Y_d_54), (E_d_gray, Y_d_67), (E_d_gray, Y_d_80), (E_d_gray, Y_d_93), (E_d_gray, Y_d_106)],
     [(E_d_ox, Y_d_112), (E_d_ox, Y_d_119), (E_d_ox, Y_d_125)])
style(axD, (7096, 7149), (0, 116.9), 10, 5)
header(axD, 0.009, 0.964, 0.904, 'Fe K-edge, Transmission')
legend(axD, (0.593, 0.964, 0.908), [0.853, 0.799], (0.593, 0.677, 0.693),
       (0.781, 0.964), [0.902, 0.847, 0.792, 0.739, 0.682], (0.779, 0.865, 0.883),
       (0.781, 0.622), [0.558, 0.502, 0.448], (0.779, 0.865, 0.883))

# ---- figure-level labels
def ftext(px, py, s, **kw):
    fig.text(px / W, 1 - py / H, s, **kw)

for px, py, s in [(19, 28, '(a)'), (606, 28, '(b)'), (19, 534, '(c)'), (606, 534, '(d)')]:
    ftext(px, py, s, fontsize=17, ha='left', va='center')

for px, py in [(278, 475), (863, 474), (280, 992), (868, 990)]:
    ftext(px, py, 'Energy / eV', fontsize=16.8, ha='center', va='center')

ftext(20, 237, 'Normalized absorbance / a.u.', fontsize=15.5, rotation=90, ha='center', va='center')
ftext(604, 237, 'Normalized absorbance / a.u.', fontsize=15.5, rotation=90, ha='center', va='center')
ftext(20, 754, 'First deriv. of normalized absorbance / a.u.', fontsize=15.2, rotation=90, ha='center', va='center')
ftext(604, 753, 'First deriv. of normalized absorbance / a.u.', fontsize=15.2, rotation=90, ha='center', va='center')

fig.savefig('out.png', dpi=100)
